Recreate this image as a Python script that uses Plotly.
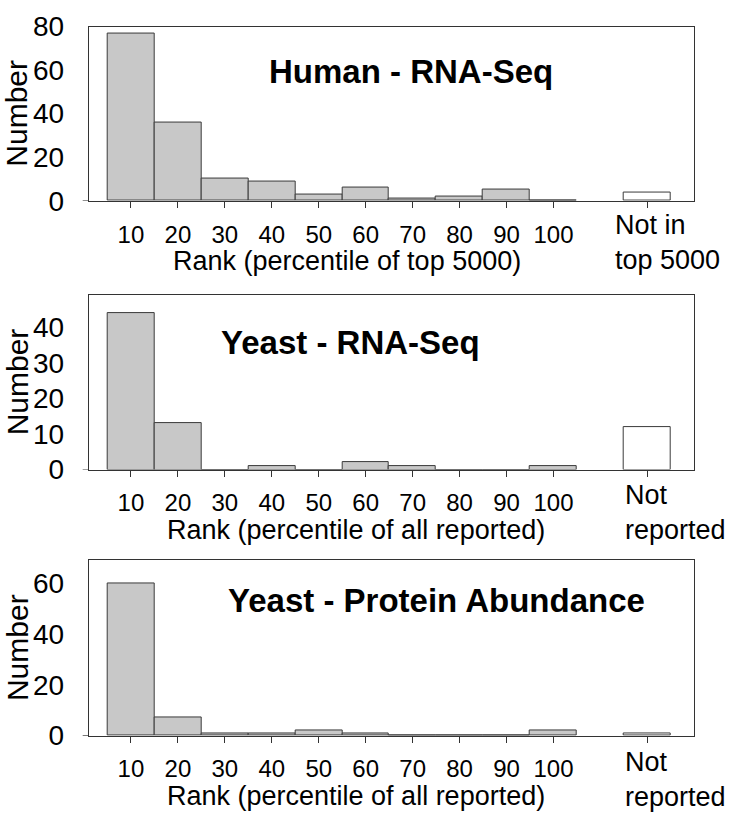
import plotly.graph_objects as go

W, H = 733, 827

# ---------------- data ----------------
bin_centers = [10, 20, 30, 40, 50, 60, 70, 80, 90, 100]
bin_labels = ["10", "20", "30", "40", "50", "60", "70", "80", "90", "100"]
not_position = 120

human_rna_counts = [77, 36, 10, 9, 3, 6, 1, 2, 5, 0]
human_rna_not = 4

yeast_rna_counts = [44, 13, 0, 1, 0, 2, 1, 0, 0, 1]
yeast_rna_not = 12

yeast_prot_counts = [60, 7, 1, 1, 2, 1, 0, 0, 0, 2]
yeast_prot_not = 1

panel_titles = ["Human - RNA-Seq", "Yeast - RNA-Seq", "Yeast - Protein Abundance"]
x_titles = ["Rank (percentile of top 5000)",
            "Rank (percentile of all reported)",
            "Rank (percentile of all reported)"]
not_labels = ["Not in<br>top 5000", "Not<br>reported", "Not<br>reported"]
y_ranges = [80, 49, 69]
y_ticks = [[0, 20, 40, 60, 80], [0, 10, 20, 30, 40], [0, 20, 40, 60]]

counts = [human_rna_counts, yeast_rna_counts, yeast_prot_counts]
nots = [human_rna_not, yeast_rna_not, yeast_prot_not]

# ---------------- layout geometry (pixels) ----------------
plot_left, plot_right = 88.7, 694.3
panel_px = [(12, 193), (291, 472.3), (566.7, 748.7)]       # top, bottom
title_pos = [(411, 59), (350, 340), (436, 608)]               # centre x, y
xtitle_y = [255.5, 535.5, 811]
xtitle_x = [347, 356, 356]
not_top = [201, 481, 758]
not_left = [612.5, 623, 623]

FONT = "Liberation Sans, Arial, sans-serif"
LINE = "#333333"

def fx(p):
    return p / W

def fy(p):
    return 1 - p / H

fig = go.Figure()
annotations = []
shapes = []

for i in range(3):
    ax = "" if i == 0 else str(i + 1)
    fig.add_trace(go.Bar(
        x=bin_centers, y=counts[i], width=10,
        marker=dict(color="#c8c8c8", line=dict(color="#3a3a3a", width=1)),
        xaxis="x" + ax, yaxis="y" + ax, showlegend=False, hoverinfo="x+y"))
    fig.add_trace(go.Bar(
        x=[not_position], y=[nots[i]], width=10,
        marker=dict(color="white", line=dict(color="#3a3a3a", width=1)),
        xaxis="x" + ax, yaxis="y" + ax, showlegend=False, hoverinfo="y"))

    top, bot = panel_px[i]
    fig.layout["xaxis" + ax] = dict(
        domain=[fx(plot_left), fx(plot_right)], range=[1, 130],
        anchor="y" + ax,
        tickvals=bin_centers + [not_position], ticktext=bin_labels + [""],
        ticks="outside", ticklen=6, tickcolor=LINE, tickwidth=1,
        showline=True, mirror=True, linecolor=LINE, linewidth=1,
        showgrid=False, zeroline=False,
        tickfont=dict(family=FONT, size=24, color="black"),
        ticklabelstandoff=6,
    )
    fig.layout["yaxis" + ax] = dict(
        domain=[fy(bot), fy(top)], range=[0, y_ranges[i]],
        anchor="x" + ax,
        tickvals=y_ticks[i], ticks="",
        showline=True, mirror=True, linecolor=LINE, linewidth=1,
        showgrid=False, zeroline=False,
        tickfont=dict(family=FONT, size=28, color="black"),
        ticklabelstandoff=18, ticklabeloverflow="allow",
    )

    # small extension of the baseline to the left of the frame
    shapes.append(dict(
        type="line", xref="paper", yref="y" + ax,
        x0=fx(82.7), x1=fx(plot_left), y0=0, y1=0,
        line=dict(color=LINE, width=1)))

    # panel title
    annotations.append(dict(
        text="<b>" + panel_titles[i] + "</b>", xref="paper", yref="paper",
        x=fx(title_pos[i][0]), y=fy(title_pos[i][1]),
        xanchor="center", yanchor="middle", showarrow=False,
        font=dict(family=FONT, size=33, color="black")))
    # x axis title
    annotations.append(dict(
        text=x_titles[i], xref="paper", yref="paper",
        x=fx(xtitle_x[i]), y=fy(xtitle_y[i]),
        xanchor="center", yanchor="middle", showarrow=False,
        font=dict(family=FONT, size=27, color="black")))
    # not-reported label
    annotations.append(dict(
        text=not_labels[i], xref="paper", yref="paper",
        x=fx(not_left[i]), y=fy(not_top[i]), align="left",
        xanchor="left", yanchor="top", showarrow=False,
        font=dict(family=FONT, size=27, color="black")))
    # y axis title
    annotations.append(dict(
        text="Number", xref="paper", yref="paper",
        x=fx(17), y=fy((top + bot) / 2), textangle=-90,
        xanchor="center", yanchor="middle", showarrow=False,
        font=dict(family=FONT, size=30, color="black")))

fig.update_layout(
    width=W, height=H, margin=dict(l=0, r=0, t=0, b=0),
    paper_bgcolor="white", plot_bgcolor="white",
    barmode="overlay", bargap=0,
    annotations=annotations, shapes=shapes, showlegend=False,
)

fig.write_html("out.html",
               config={"displayModeBar": False},
               post_script="document.body.style.margin='0px';")
